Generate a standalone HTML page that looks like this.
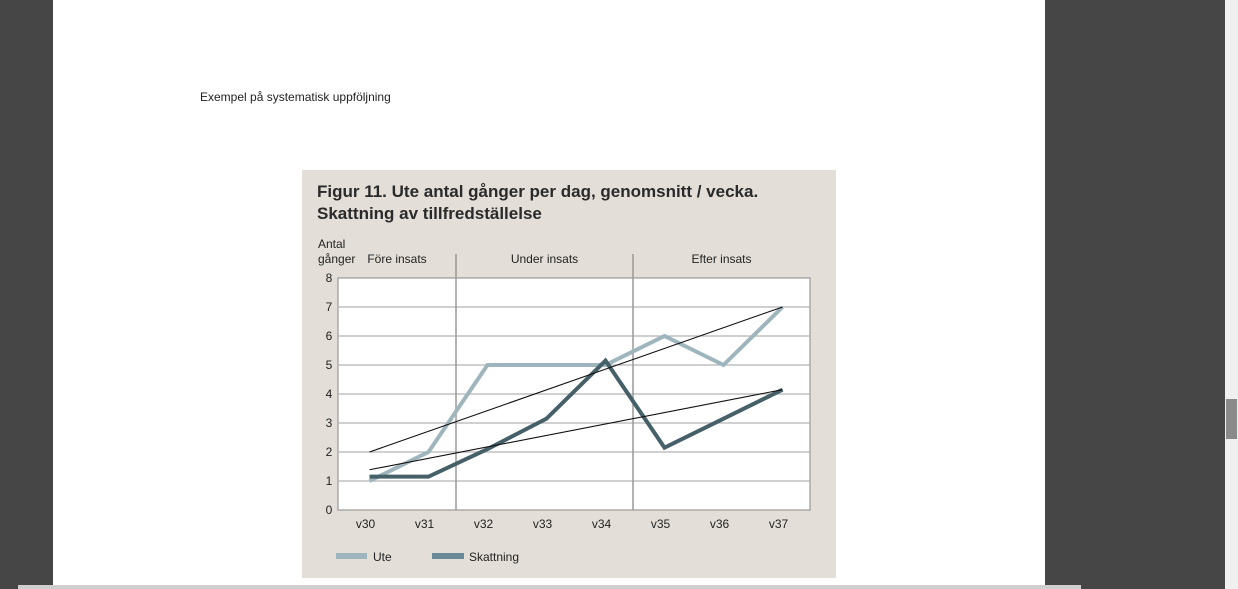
<!DOCTYPE html>
<html><head><meta charset="utf-8"><style>
body{margin:0;width:1238px;height:589px;overflow:hidden;background:#464646;font-family:"Liberation Sans",sans-serif;position:relative}
#page{position:absolute;left:53px;top:0;width:992px;height:585px;background:#fff}
#bottombar{position:absolute;left:18px;top:585px;width:1063px;height:4px;background:#cfcfcf}
#scroll{position:absolute;left:1225px;top:0;width:13px;height:589px;background:#f0f0f0}
#thumb{position:absolute;left:1226px;top:399px;width:11px;height:40px;background:#8a8a8a}
#cap{position:absolute;left:200px;top:90px;font-size:12px;color:#222}
</style></head><body>
<div id="page"></div>
<div id="bottombar"></div>
<div id="scroll"></div>
<div id="thumb"></div>
<div id="cap">Exempel på systematisk uppföljning</div>
<svg id="chart" width="1238" height="589" style="position:absolute;left:0;top:0">
<rect x="302" y="170" width="534" height="408" fill="#e3dfd8"/>
<text x="317" y="197" font-size="17" font-weight="bold" fill="#2a2a2a">Figur 11. Ute antal gånger per dag, genomsnitt / vecka.</text>
<text x="317" y="219" font-size="17" font-weight="bold" fill="#2a2a2a">Skattning av tillfredställelse</text>
<text x="318" y="248" font-size="12" fill="#222">Antal</text>
<text x="318" y="263" font-size="12" fill="#222">gånger</text>
<rect x="338" y="278" width="472" height="232" fill="#fff" stroke="#999" stroke-width="1.2"/>
<g id="grid"></g><g id="axes"></g><g id="series"></g>
<rect x="336" y="553" width="31" height="6" fill="#9fb5bd"/>
<text x="373" y="561" font-size="12" fill="#222">Ute</text>
<rect x="432" y="553" width="32" height="6" fill="#6b8a98"/>
<text x="469" y="561" font-size="12" fill="#222">Skattning</text>
</svg>
<script>
const categories=["v30","v31","v32","v33","v34","v35","v36","v37"];
const yTicks=[0,1,2,3,4,5,6,7,8];
const ute=[1,2,5,5,5,6,5,7];
const skattning=[1.15,1.15,2.1,3.15,5.15,2.15,3.15,4.15];
const phases=["Före insats","Under insats","Efter insats"];
const phaseBounds=[0,2,5,8];
const NS="http://www.w3.org/2000/svg";
const X0=338,X1=810,Y0=510,Y1=278;
const bw=(X1-X0)/categories.length;
const xs=i=>X0+bw*(i+0.5)+2;
const xb=b=>X0+bw*b;
const ys=v=>Y0-(Y0-Y1)*v/8;
function mk(t,a,p){const e=document.createElementNS(NS,t);for(const k in a)e.setAttribute(k,a[k]);p.appendChild(e);return e;}
const grid=document.getElementById('grid'),axes=document.getElementById('axes'),ser=document.getElementById('series');
yTicks.forEach(v=>{
 if(v>0&&v<8){const l=mk('line',{x1:X0,x2:X1,y1:ys(v),y2:ys(v),stroke:'#b5b5b5','stroke-width':1.2},grid);
 
 }
 const t=mk('text',{x:329,y:ys(v)+4,'font-size':12,'text-anchor':'middle',fill:'#222'},axes);t.textContent=v;
 
 
});
categories.forEach((c,i)=>{const t=mk('text',{x:xs(i)-4,y:528,'font-size':12,'text-anchor':'middle',fill:'#222'},axes);t.textContent=c;
 
 });
phases.forEach((p,i)=>{
 const t=mk('text',{x:(xb(phaseBounds[i])+xb(phaseBounds[i+1]))/2,y:263,'font-size':12,'text-anchor':'middle',fill:'#222'},axes);t.textContent=p;
 
 
 if(i>0){const l=mk('line',{x1:xb(phaseBounds[i]),x2:xb(phaseBounds[i]),y1:254,y2:Y0,stroke:'#999','stroke-width':1.5},axes);
 
 }
});
function trend(d){const n=d.length,mx=(n-1)/2,my=d.reduce((a,b)=>a+b)/n;let sxy=0,sxx=0;d.forEach((v,i)=>{sxy+=(i-mx)*(v-my);sxx+=(i-mx)*(i-mx);});const s=sxy/sxx;return [my-s*mx,my+s*(n-1-mx)];}
function line(d,col,w,name){const p=mk('polyline',{points:d.map((v,i)=>xs(i)+','+ys(v)).join(' '),fill:'none',stroke:col,'stroke-width':w,'stroke-linejoin':'miter'},ser);
 
 }
line(ute,'#9fb5bd',4,'series-ute');
line(skattning,'#46606a',4,'series-skattning');
[[ute,'trend-ute'],[skattning,'trend-skattning']].forEach(([d,n])=>{const t=trend(d);
 const l=mk('line',{x1:xs(0),y1:ys(t[0]),x2:xs(d.length-1),y2:ys(t[1]),stroke:'#111','stroke-width':1.1},ser);
 
 });
</script>
</body></html>
